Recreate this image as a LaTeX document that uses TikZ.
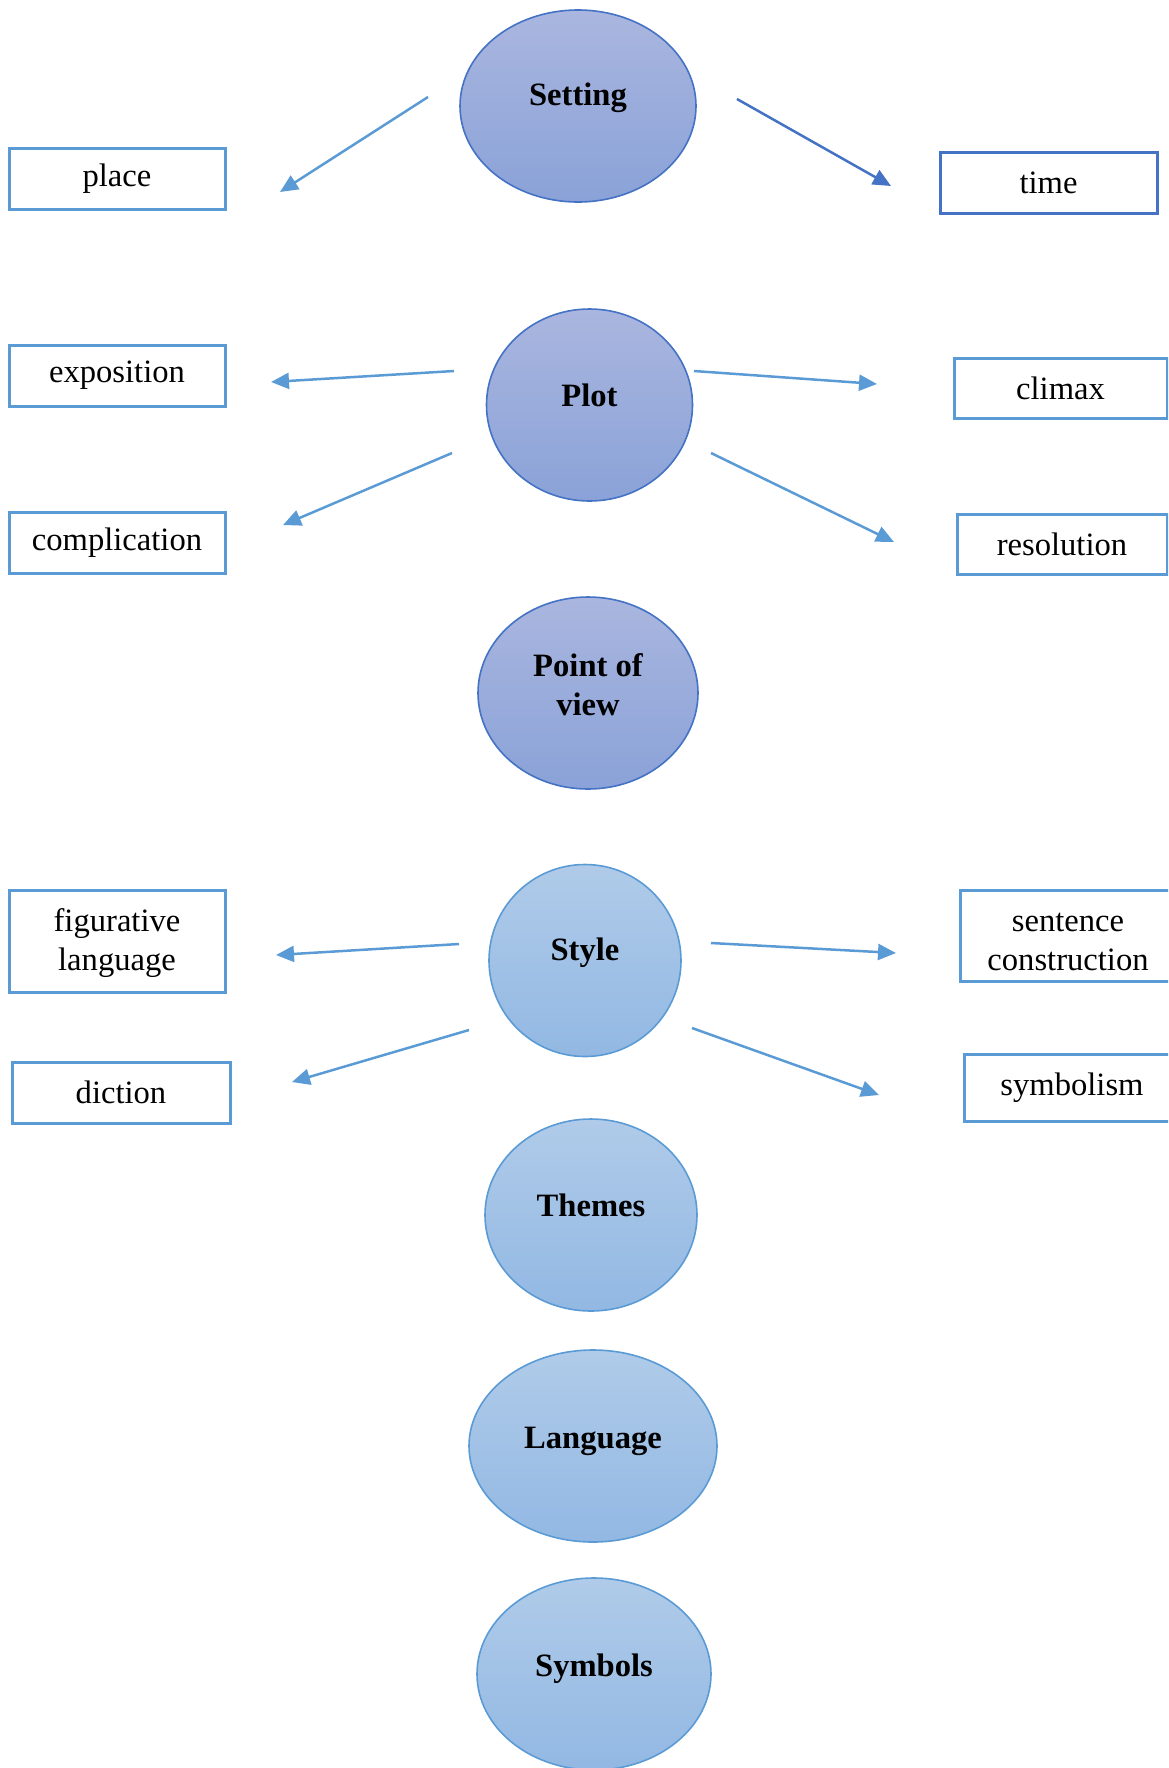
\documentclass[tikz,border=0pt]{standalone}
\usepackage{fontspec}
\setmainfont{Liberation Serif}
\usetikzlibrary{shapes.geometric,arrows.meta}

\definecolor{bordfonce}{HTML}{4472C4}
\definecolor{bordclair}{HTML}{5B9BD5}
\definecolor{hautfonce}{HTML}{AAB6DF}
\definecolor{basfonce}{HTML}{8AA2D8}
\definecolor{hautclair}{HTML}{B0CBE9}
\definecolor{basclair}{HTML}{92B8E3}

\tikzset{
  bullefonce/.style={ellipse, draw=bordfonce, line width=0.8pt, inner sep=0pt,
    top color=hautfonce, bottom color=basfonce},
  bulleclair/.style={ellipse, draw=bordclair, line width=0.8pt, inner sep=0pt,
    top color=hautclair, bottom color=basclair},
  titre/.style={font=\fontsize{16.3}{19.5}\selectfont\bfseries, align=center, yshift=4pt},
  boite/.style={draw=bordclair, line width=1.5pt, inner sep=0pt, align=center,
    font=\fontsize{16.3}{19.5}\selectfont},
  texteboite/.style={font=\fontsize{16.3}{19.5}\selectfont, align=center},
  fleche/.style={draw=bordclair, line width=1.25pt, -{Triangle[length=9pt,width=8pt]}}
}

\begin{document}
\begin{tikzpicture}[x=0.5pt,y=-0.5pt]
\useasboundingbox (0,0) rectangle (1168,1768);
\clip (0,0) rectangle (1168,1768);

%Ellipses
\node[bullefonce, minimum width=118pt, minimum height=96pt, label={[titre]center:Setting}] (setting) at (578,106) {};
\node[bullefonce, minimum width=103pt, minimum height=96pt, label={[titre, yshift=1pt]center:Plot}] (plot) at (589.5,405) {};
\node[bullefonce, minimum width=110pt, minimum height=96pt, label={[titre]center:{Point of\\view}}] (pointofview) at (588,693) {};
\node[bulleclair, minimum width=96pt, minimum height=96pt, label={[titre]center:Style}] (style) at (585,960.5) {};
\node[bulleclair, minimum width=106pt, minimum height=96pt, label={[titre, yshift=1pt]center:Themes}] (themes) at (591,1215) {};
\node[bulleclair, minimum width=124pt, minimum height=96pt, label={[titre, yshift=-1.5pt]center:Language}] (language) at (593,1446) {};
\node[bulleclair, minimum width=117pt, minimum height=96pt, label={[titre, yshift=-1.5pt]center:Symbols}] (symbols) at (594,1674) {};

%Boites
\node[boite, minimum width=108pt, minimum height=30.5pt] (place) at (117,178.5) {place};
\node[boite, draw=bordfonce, minimum width=108.5pt, minimum height=30.5pt] (time) at (1048.5,182.5) {time};
\node[boite, minimum width=108pt, minimum height=30.5pt] (exposition) at (117,375.5) {exposition};
\node[boite, minimum width=106.5pt, minimum height=30pt] (climax) at (1060.5,388) {climax};
\node[boite, minimum width=108pt, minimum height=30.5pt] (complication) at (117,542.5) {complication};
\node[boite, minimum width=105pt, minimum height=30pt] (resolution) at (1062,544) {resolution};
\node[boite, minimum width=108pt, minimum height=51pt, label={[texteboite, yshift=-1pt]center:{figurative\\language}}] (figurative) at (117,941) {};
\node[boite, minimum width=108pt, minimum height=45.5pt, label={[texteboite, yshift=-3pt]center:{sentence\\construction}}] (sentence) at (1068,935.5) {};
\node[boite, minimum width=108pt, minimum height=33.5pt] (symbolism) at (1072,1087.5) {symbolism};
\node[boite, minimum width=109pt, minimum height=30.5pt] (diction) at (121,1092.5) {diction};

%Fleches
\coordinate (setL1) at (428,97);   \coordinate (setL2) at (280,192);
\coordinate (setR1) at (737,99);   \coordinate (setR2) at (891,186);
\coordinate (plotL1) at (454,371); \coordinate (plotL2) at (271,382);
\coordinate (plotR1) at (694,371); \coordinate (plotR2) at (877,384);
\coordinate (plotL3) at (452,453); \coordinate (plotL4) at (283,525);
\coordinate (plotR3) at (711,453); \coordinate (plotR4) at (894,542);
\coordinate (styleL1) at (459,944);  \coordinate (styleL2) at (276,955);
\coordinate (styleR1) at (711,943);  \coordinate (styleR2) at (896,953);
\coordinate (styleL3) at (469,1030); \coordinate (styleL4) at (292,1082);
\coordinate (styleR3) at (692,1028); \coordinate (styleR4) at (879,1095);

\draw[fleche] (setL1) -- (setL2);
\draw[fleche, draw=bordfonce, -{Triangle[length=9pt,width=8pt,fill=bordfonce]}] (setR1) -- (setR2);
\draw[fleche] (plotL1) -- (plotL2);
\draw[fleche] (plotR1) -- (plotR2);
\draw[fleche] (plotL3) -- (plotL4);
\draw[fleche] (plotR3) -- (plotR4);
\draw[fleche] (styleL1) -- (styleL2);
\draw[fleche] (styleR1) -- (styleR2);
\draw[fleche] (styleL3) -- (styleL4);
\draw[fleche] (styleR3) -- (styleR4);

\end{tikzpicture}
\end{document}
